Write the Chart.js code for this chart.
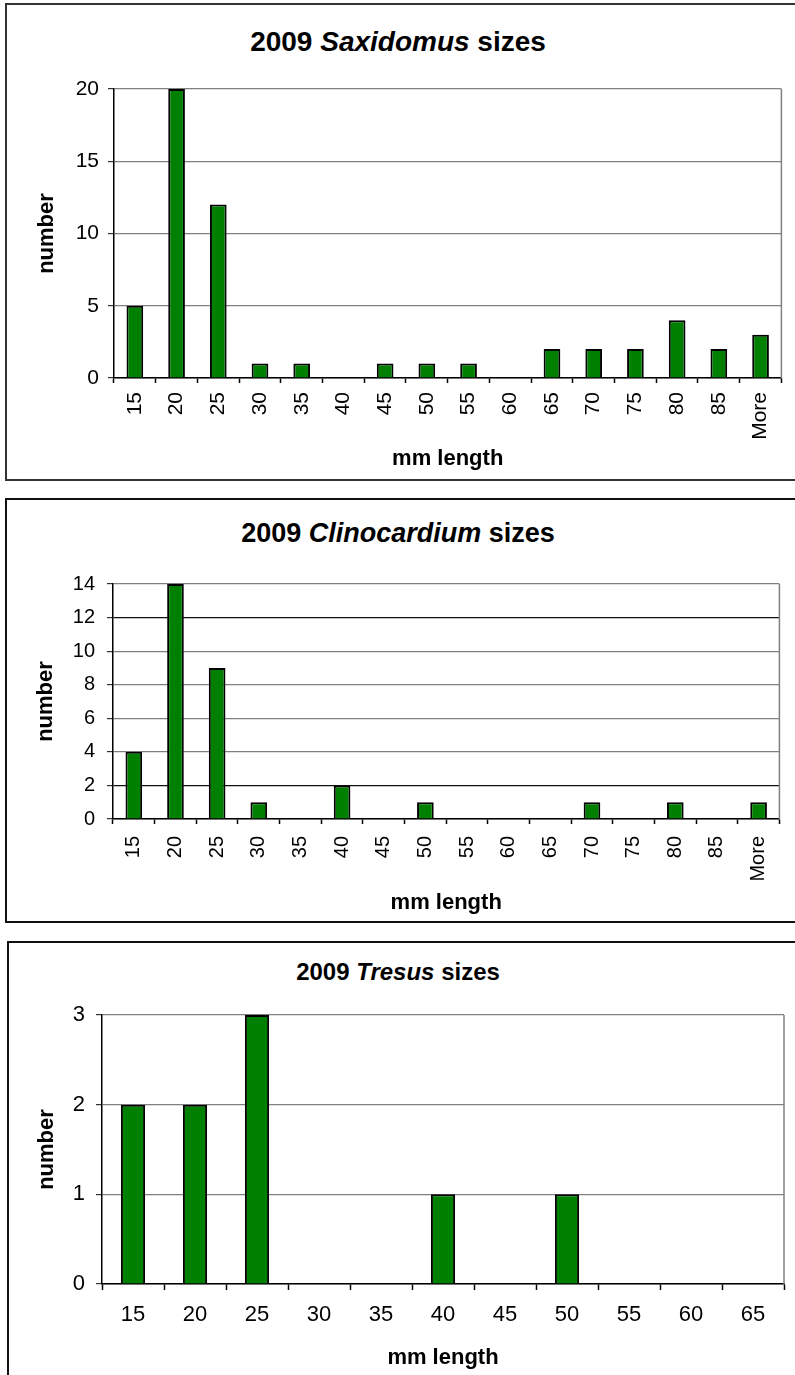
<!DOCTYPE html>
<html>
<head>
<meta charset="utf-8">
<script src="https://cdn.jsdelivr.net/npm/chart.js@4/dist/chart.umd.min.js"></script>
<style>
  html, body { margin: 0; padding: 0; background: #fff; }
  body { width: 795px; height: 1375px; position: relative; overflow: hidden; font-family: "Liberation Sans", Arial, sans-serif; }
  canvas { position: absolute; }
  .frame { position: absolute; box-sizing: border-box; pointer-events: none; }
  .titulo { position: absolute; left: 0; width: 796px; text-align: center; font-weight: bold; line-height: 1; color: #000; white-space: nowrap; }
</style>
</head>
<body>

<div class="titulo" style="top:28px;font-size:28px;">2009 <i>Saxidomus</i> sizes</div>
<canvas id="chartSax" width="790" height="477" style="left:5px;top:3px;"></canvas>
<div class="frame" style="left:5px;top:3px;width:800px;height:478px;border:2px solid #333;"></div>

<div class="titulo" style="top:520px;font-size:27px;">2009 <i>Clinocardium</i> sizes</div>
<canvas id="chartClino" width="790" height="424" style="left:5px;top:498px;"></canvas>
<div class="frame" style="left:5px;top:498px;width:800px;height:425px;border:2px solid #111;"></div>

<div class="titulo" style="top:960px;font-size:24px;">2009 <i>Tresus</i> sizes</div>
<canvas id="chartTresus" width="788" height="434" style="left:7px;top:941px;"></canvas>
<div class="frame" style="left:7px;top:941px;width:800px;height:450px;border:2px solid #111;"></div>

<script>
// dados
const saxLabels = ['15', '20', '25', '30', '35', '40', '45', '50', '55', '60', '65', '70', '75', '80', '85', 'More'];
const saxCounts = [5, 20, 12, 1, 1, 0, 1, 1, 1, 0, 2, 2, 2, 4, 2, 3];
const saxYMax = 20;
const saxYStep = 5;

const clinoLabels = ['15', '20', '25', '30', '35', '40', '45', '50', '55', '60', '65', '70', '75', '80', '85', 'More'];
const clinoCounts = [4, 14, 9, 1, 0, 2, 0, 1, 0, 0, 0, 1, 0, 1, 0, 1];
const clinoYMax = 14;
const clinoYStep = 2;

const tresusLabels = ['15', '20', '25', '30', '35', '40', '45', '50', '55', '60', '65'];
const tresusCounts = [2, 2, 3, 0, 0, 1, 0, 1, 0, 0, 0];
const tresusYMax = 3;
const tresusYStep = 1;

const fonte = '"Liberation Sans", Arial, sans-serif';
Chart.defaults.font.family = fonte;
Chart.defaults.color = '#000';

// linha cinza do lado direito da área do gráfico
const bordaDireita = {
  id: 'bordaDireita',
  beforeDatasetsDraw(chart) {
    const { ctx, chartArea } = chart;
    ctx.save();
    ctx.strokeStyle = '#808080';
    ctx.lineWidth = 1.5;
    ctx.beginPath();
    ctx.moveTo(chartArea.right, chartArea.top);
    ctx.lineTo(chartArea.right, chartArea.bottom);
    ctx.stroke();
    ctx.restore();
  }
};

function plotarHistograma(id, labels, counts, cfg) {
  return new Chart(document.getElementById(id), {
    type: 'bar',
    data: {
      labels: labels,
      datasets: [{
        label: 'number',
        data: counts,
        backgroundColor: '#008000',
        borderColor: '#000',
        borderWidth: 2,
        barPercentage: cfg.barPct,
        categoryPercentage: 1
      }]
    },
    plugins: [bordaDireita],
    options: {
      responsive: false,
      animation: false,
      events: [],
      layout: { padding: { top: cfg.top, right: cfg.right, left: 0, bottom: 0 } },
      plugins: {
        legend: { display: false },
        tooltip: { enabled: false }
      },
      scales: {
        x: {
          offset: true,
          afterFit: (scale) => { scale.height = cfg.xHeight; },
          grid: { offset: true, drawOnChartArea: false, drawTicks: true, tickLength: cfg.xTick, tickColor: '#000', tickWidth: 1.5 },
          border: { color: '#000', width: 1.5 },
          ticks: {
            autoSkip: false,
            minRotation: cfg.rot,
            maxRotation: cfg.rot,
            padding: cfg.xPad,
            font: { size: cfg.tickSize }
          },
          title: {
            display: true,
            text: 'mm length',
            font: { size: 22, weight: 'bold' },
            padding: { top: 0, bottom: cfg.xTitlePad }
          }
        },
        y: {
          min: 0,
          max: cfg.yMax,
          afterFit: (scale) => { scale.width = cfg.yWidth; },
          grid: {
            color: (c) => (cfg.darkGrid.includes(c.tick.value) ? '#111' : '#808080'),
            lineWidth: 1.2,
            tickLength: 6,
            tickColor: '#333',
            tickWidth: 1.2
          },
          border: { color: '#000', width: 1.5 },
          ticks: {
            stepSize: cfg.yStep,
            padding: cfg.yPad,
            font: { size: cfg.tickSize }
          },
          title: {
            display: true,
            text: 'number',
            font: { size: 22, weight: 'bold' },
            padding: { top: cfg.yTitlePad, bottom: 0 }
          }
        }
      }
    }
  });
}

plotarHistograma('chartSax', saxLabels, saxCounts, {
  yMax: saxYMax, yStep: saxYStep, barPct: 0.4,
  top: 86, right: 8, xHeight: 102, yWidth: 109,
  rot: 90, xTick: 5, xPad: 9, yPad: 9, tickSize: 21,
  xTitlePad: 8, yTitlePad: 29, darkGrid: []
});

plotarHistograma('chartClino', clinoLabels, clinoCounts, {
  yMax: clinoYMax, yStep: clinoYStep, barPct: 0.4,
  top: 86, right: 13, xHeight: 103, yWidth: 108,
  rot: 90, xTick: 5, xPad: 12, yPad: 12, tickSize: 20,
  xTitlePad: 6, yTitlePad: 28, darkGrid: [2, 12]
});

plotarHistograma('chartTresus', tresusLabels, tresusCounts, {
  yMax: tresusYMax, yStep: tresusYStep, barPct: 0.39,
  top: 74, right: 11, xHeight: 91, yWidth: 95,
  rot: 0, xTick: 6, xPad: 12, yPad: 11, tickSize: 22,
  xTitlePad: 4, yTitlePad: 27, darkGrid: []
});
</script>
</body>
</html>
